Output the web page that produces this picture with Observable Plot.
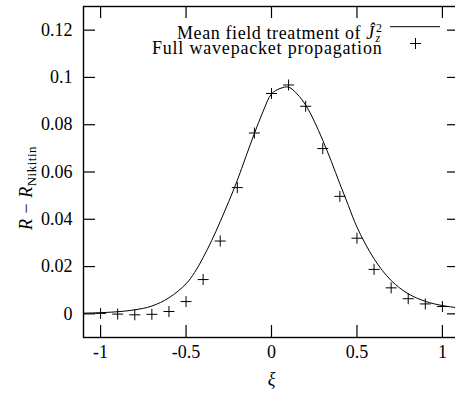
<!DOCTYPE html>
<html>
<head>
<meta charset="utf-8">
<script src="https://cdn.jsdelivr.net/npm/d3@7"></script>
<script src="https://cdn.jsdelivr.net/npm/@observablehq/plot@0.6"></script>
<style>
  html, body { margin: 0; padding: 0; background: white; overflow: hidden; }
  #chart svg, #chart svg text, #chart svg tspan { font-family: "Liberation Serif", "DejaVu Serif", serif !important; }
</style>
</head>
<body>
<div id="chart"></div>
<script>
// Full wavepacket propagation (crosses)
const xiPoints = [-1, -0.9, -0.8, -0.7, -0.6, -0.5, -0.4, -0.3, -0.2, -0.1, 0, 0.1, 0.2, 0.3, 0.4, 0.5, 0.6, 0.7, 0.8, 0.9, 1];
const fullValues = [0.0002, -0.0001, -0.0004, -0.0002, 0.0010, 0.0052, 0.0145, 0.0308, 0.0534, 0.0765, 0.0932, 0.0968, 0.0878, 0.0699, 0.0497, 0.0320, 0.0188, 0.0110, 0.0064, 0.0042, 0.0031];

// Mean field treatment (line)
const xiCurve = [-1.1, -1.0, -0.9, -0.8, -0.7, -0.6, -0.5, -0.45, -0.4, -0.35, -0.3, -0.25, -0.2, -0.15, -0.1, -0.05, 0, 0.05, 0.1, 0.15, 0.2, 0.25, 0.3, 0.35, 0.4, 0.45, 0.5, 0.6, 0.7, 0.8, 0.9, 1.0, 1.1];
const meanValues = [0.0003, 0.0005, 0.0009, 0.0017, 0.0033, 0.0068, 0.0127, 0.0175, 0.0238, 0.0310, 0.0390, 0.0475, 0.0565, 0.0665, 0.0763, 0.0855, 0.0930, 0.0953, 0.0959, 0.0930, 0.0883, 0.0815, 0.0734, 0.0645, 0.0550, 0.0458, 0.0367, 0.0233, 0.0141, 0.0085, 0.0053, 0.0035, 0.0025];

// Axis ticks
const xTicks = [-1, -0.5, 0, 0.5, 1];
const xTickLabels = ["-1", "-0.5", "0", "0.5", "1"];
const yTicks = [0, 0.02, 0.04, 0.06, 0.08, 0.1, 0.12];
const yTickLabels = ["0", "0.02", "0.04", "0.06", "0.08", "0.1", "0.12"];

const legendLabels = ["Mean field treatment of J", "Full wavepacket propagation"];

const points = xiPoints.map((x, i) => ({x, y: fullValues[i]}));
const curve = xiCurve.map((x, i) => ({x, y: meanValues[i]}));

const cross = {
  draw(ctx, size) {
    const r = Math.sqrt(size / Math.PI);
    ctx.moveTo(-r, 0); ctx.lineTo(r, 0);
    ctx.moveTo(0, -r); ctx.lineTo(0, r);
  }
};

const W = 455, H = 398, ML = 83, MR = -4, MT = 6, MB = 61;
const innerW = W - ML - MR, innerH = H - MT - MB;
const tick = 12;
const font = "Liberation Serif";

const plot = Plot.plot({
  width: W, height: H,
  marginLeft: ML, marginRight: MR, marginTop: MT, marginBottom: MB,
  x: {domain: [-1.1, 1.1], axis: null},
  y: {domain: [-0.01, 0.13], axis: null},
  style: {fontFamily: font, background: "white", color: "black"},
  marks: [
    Plot.line(curve, {x: "x", y: "y", curve: "catmull-rom", stroke: "black", strokeWidth: 1}),
    Plot.dot(points, {x: "x", y: "y", symbol: cross, r: 5.5, fill: "none", stroke: "black", strokeWidth: 1}),
    // ticks (inward, all four sides)
    Plot.ruleX(xTicks, {x: d => d, insetTop: innerH - tick, stroke: "black", strokeWidth: 1.2}),
    Plot.ruleX(xTicks, {x: d => d, insetBottom: innerH - tick, stroke: "black", strokeWidth: 1.2}),
    Plot.ruleY(yTicks, {y: d => d, insetRight: innerW - tick, stroke: "black", strokeWidth: 1.2}),
    Plot.ruleY(yTicks, {y: d => d, insetLeft: innerW - tick, stroke: "black", strokeWidth: 1.2}),
    Plot.frame({stroke: "black", strokeWidth: 1.4}),
    // tick labels
    Plot.text(xTicks, {x: d => d, text: (d, i) => xTickLabels[i], frameAnchor: "bottom", dy: 20.5, fontSize: 18, fill: "black"}),
    Plot.text(yTicks, {y: d => d, text: (d, i) => yTickLabels[i], frameAnchor: "left", dx: -11, textAnchor: "end", fontSize: 18, fill: "black"}),
    // axis labels
    Plot.text(["ξ"], {text: d => d, frameAnchor: "bottom", dy: 47, fontSize: 18, fontStyle: "italic", fill: "black"}),
    Plot.text(["YLABEL"], {text: d => d, frameAnchor: "left", dx: -57, dy: 16, rotate: -90, textAnchor: "middle", fontSize: 18, fill: "black"}),
    // legend
    Plot.text([legendLabels[0]], {text: d => d, frameAnchor: "top-right", dx: -77, dy: 20, textAnchor: "end", fontSize: 18, fill: "black"}),
    Plot.text([legendLabels[1]], {text: d => d, frameAnchor: "top-right", dx: -77, dy: 35, textAnchor: "end", fontSize: 18, fill: "black"}),
    Plot.dot([0], {frameAnchor: "top-right", dx: -44, dy: 37, symbol: cross, r: 5.5, fill: "none", stroke: "black", strokeWidth: 1})
  ]
});

const svg = d3.select(plot);
svg.selectAll("text").each(function() {
  const t = d3.select(this);
  const s = this.textContent;
  if (s === "YLABEL") {
    t.text("");
    t.attr("letter-spacing", "0.5");
    t.append("tspan").attr("font-style", "italic").text("R");
    t.append("tspan").text(" \u2212 ");
    t.append("tspan").attr("font-style", "italic").text("R");
    t.append("tspan").attr("font-size", 13).attr("dy", "4").text("Nikitin");
  } else if (s === legendLabels[0]) {
    t.text("");
    t.attr("letter-spacing", "0.6");
    t.append("tspan").text("Mean field treatment of ");
    t.append("tspan").attr("font-style", "italic").text("\u0134");
    t.append("tspan").attr("font-size", 12).attr("dy", "-7").attr("dx", "1").text("2");
    t.append("tspan").attr("font-size", 12).attr("font-style", "italic").attr("dy", "10").attr("dx", "-7").text("z");
  } else if (s === legendLabels[1]) {
    t.attr("letter-spacing", "0.8");
  }
});
// legend line sample
svg.append("line")
  .attr("x1", 390).attr("x2", 440).attr("y1", 26.7).attr("y2", 26.7)
  .attr("stroke", "black").attr("stroke-width", 1);

document.getElementById("chart").appendChild(plot);
</script>
</body>
</html>
